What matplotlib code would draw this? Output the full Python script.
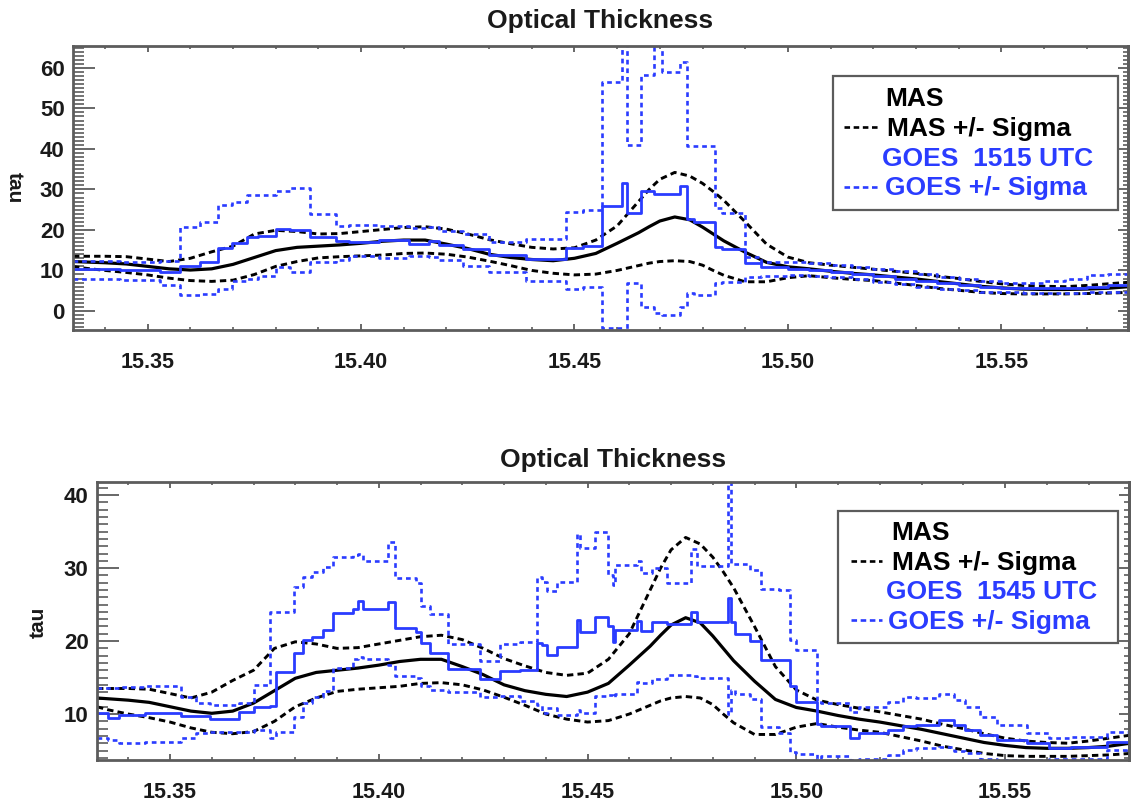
import matplotlib
matplotlib.use("Agg")
import matplotlib.pyplot as plt
from matplotlib.patches import Rectangle
from matplotlib.lines import Line2D
from matplotlib.ticker import MultipleLocator, FormatStrFormatter

plt.rcParams['font.family'] = ['Liberation Sans', 'DejaVu Sans']
plt.rcParams['font.weight'] = 'bold'
plt.rcParams['lines.scale_dashes'] = False

# MAS optical thickness (same in both panels)
mas_t = [15.3325, 15.335, 15.340, 15.345, 15.350, 15.355, 15.360, 15.365, 15.370, 15.375,
         15.380, 15.385, 15.390, 15.395, 15.400, 15.405, 15.410, 15.415, 15.420, 15.425,
         15.430, 15.435, 15.440, 15.445, 15.450, 15.455, 15.460, 15.465, 15.4675, 15.470,
         15.4735, 15.477, 15.480, 15.4825, 15.485, 15.490, 15.495, 15.500, 15.505, 15.510,
         15.515, 15.520, 15.525, 15.530, 15.535, 15.540, 15.545, 15.550, 15.555, 15.560,
         15.565, 15.570, 15.575, 15.580]
mas_tau = [12.2, 12.1, 11.9, 11.6, 11.0, 10.4, 10.1, 10.4, 11.5, 13.2,
           14.9, 15.7, 16.0, 16.3, 16.7, 17.2, 17.5, 17.5, 16.5, 15.4,
           14.0, 13.2, 12.7, 12.4, 13.0, 14.2, 16.7, 19.3, 20.8, 22.2,
           23.2, 22.5, 20.7, 19.0, 17.3, 14.5, 12.0, 10.9, 10.4, 9.8,
           9.3, 8.9, 8.4, 7.9, 7.3, 6.7, 6.1, 5.7, 5.4, 5.3,
           5.3, 5.4, 5.6, 6.0]
mas_hi = [13.5, 13.5, 13.5, 13.4, 12.8, 12.2, 13.0, 14.6, 16.0, 19.0,
          19.9, 19.6, 19.0, 19.1, 19.6, 20.1, 20.6, 20.8, 20.2, 19.0,
          17.6, 16.6, 15.7, 15.3, 15.6, 17.5, 21.0, 27.0, 30.0, 32.5,
          34.2, 33.3, 31.5, 29.5, 27.3, 22.0, 16.5, 13.3, 11.9, 11.3,
          10.8, 10.3, 9.8, 9.3, 8.6, 8.0, 7.3, 6.7, 6.3, 6.1,
          6.0, 6.3, 6.7, 7.1]
mas_lo = [11.0, 10.6, 10.0, 9.5, 8.9, 8.1, 7.5, 7.3, 7.6, 9.0,
          11.0, 12.2, 13.1, 13.4, 13.6, 13.8, 14.2, 14.3, 14.0, 13.3,
          12.3, 11.2, 10.0, 9.3, 8.9, 9.1, 10.0, 11.2, 11.8, 12.2,
          12.4, 12.2, 11.3, 10.0, 8.8, 7.2, 7.2, 8.2, 8.7, 8.2,
          7.8, 7.5, 6.9, 6.3, 5.6, 5.1, 4.6, 4.3, 4.2, 4.2,
          4.2, 4.3, 4.4, 4.6]

# GOES 1515 UTC (pixel edges along track, mean and +/- sigma)
g1515_edges = [15.3325, 15.3435, 15.3528, 15.3575, 15.3622, 15.3664, 15.3698, 15.3732, 15.3758,
               15.3800, 15.3834, 15.3881, 15.3941, 15.3972, 15.4043, 15.4113, 15.4160, 15.4183,
               15.4238, 15.4300, 15.4386, 15.4480, 15.4519, 15.4565, 15.4612, 15.4624, 15.4655,
               15.4686, 15.4705, 15.4748, 15.4764, 15.4780, 15.4830, 15.4846, 15.4900, 15.4936,
               15.500, 15.505, 15.510, 15.515, 15.520, 15.525, 15.530, 15.535, 15.540, 15.545,
               15.550, 15.555, 15.560, 15.565, 15.570, 15.575, 15.580]
g1515_tau = [10.4, 10.0, 9.6, 11.2, 12.0, 15.5, 16.8, 18.2, 18.6, 20.2, 20.0, 18.2,
             17.3, 17.0, 17.4, 16.5, 17.3, 16.2, 15.4, 13.8, 12.8, 15.5, 16.0, 26.0,
             31.5, 24.2, 29.6, 28.9, 28.8, 30.8, 22.8, 22.0, 15.8, 15.3, 11.8, 10.9,
             10.4, 10.0, 9.6, 9.1, 8.6, 8.0, 7.4, 6.9, 6.4, 6.0, 5.7, 5.6, 5.6, 5.7, 5.8, 6.3]
g1515_hi = [12.3, 12.0, 12.3, 20.8, 22.0, 26.2, 27.0, 28.6, 28.5, 29.5, 30.4, 24.0,
            21.0, 21.2, 21.0, 20.5, 20.8, 19.8, 19.0, 17.0, 17.8, 24.5, 25.0, 56.5,
            80.0, 41.0, 58.3, 80.0, 59.0, 61.5, 40.8, 40.6, 25.5, 24.3, 13.4, 12.0,
            12.1, 11.8, 11.4, 10.9, 10.4, 9.8, 9.1, 8.4, 7.8, 7.3, 7.0, 6.9, 7.3, 7.9, 8.8, 9.0]
g1515_lo = [7.8, 7.6, 6.4, 4.0, 4.3, 5.4, 7.5, 8.0, 8.6, 10.9, 9.6, 12.0,
            12.6, 13.6, 13.0, 13.6, 13.2, 12.6, 11.0, 9.6, 7.3, 5.3, 6.0, -4.2,
            -20.0, 6.9, 1.1, -0.6, -1.0, 1.0, 4.4, 4.0, 7.0, 7.2, 8.5, 8.7,
            8.9, 8.7, 8.3, 7.8, 7.2, 6.6, 6.0, 5.5, 5.1, 4.8, 4.6, 4.5, 4.5, 4.5, 4.6, 4.8]

# GOES 1545 UTC
g1545_edges = [15.3325, 15.3352, 15.3378, 15.3439, 15.3527, 15.3562, 15.3596, 15.3666, 15.3701,
               15.3740, 15.3754, 15.3797, 15.3819, 15.3841, 15.3866, 15.3890, 15.3938, 15.3950,
               15.3962, 15.4022, 15.4038, 15.4090, 15.4102, 15.4122, 15.4166, 15.4243, 15.4291,
               15.4339, 15.4379, 15.4391, 15.4403, 15.4427, 15.4475, 15.4483, 15.4517, 15.4548,
               15.4561, 15.4565, 15.4618, 15.4627, 15.4655, 15.4691, 15.4749, 15.4762, 15.4836,
               15.4844, 15.4854, 15.4889, 15.4915, 15.4958, 15.4985, 15.5000, 15.5050, 15.5059,
               15.5129, 15.5151, 15.5220, 15.5255, 15.5286, 15.5343, 15.5377, 15.5404, 15.5439,
               15.5482, 15.5552, 15.5605, 15.5657, 15.5744, 15.5800]
g1545_tau = [10.1, 9.4, 9.9, 10.2, 9.7, 9.7, 9.3, 10.3, 11.0, 11.1,
             15.8, 18.3, 20.1, 20.6, 21.5, 23.8, 24.4, 25.5, 24.4, 25.4,
             21.8, 21.3, 19.7, 18.4, 16.2, 14.8, 15.9, 16.0, 19.7, 19.4,
             18.1, 19.2, 22.9, 21.2, 23.3, 22.0, 19.9, 21.5, 22.7, 21.4,
             22.6, 22.3, 24.0, 22.6, 25.9, 22.6, 21.0, 20.0, 17.4, 17.4,
             13.9, 11.7, 8.7, 8.3, 6.7, 7.4, 7.8, 8.3, 8.5, 9.2,
             8.5, 7.8, 7.1, 6.4, 6.0, 5.3, 5.5, 6.2]
g1545_hi = [13.5, 13.5, 13.7, 13.9, 12.4, 11.5, 11.2, 11.5, 14.0, 24.0,
            24.0, 27.4, 28.8, 29.5, 30.2, 31.5, 31.8, 32.0, 31.0, 33.6,
            28.6, 27.9, 24.8, 23.7, 19.6, 17.3, 19.6, 19.9, 28.8, 28.1,
            26.8, 28.1, 34.7, 32.8, 35.0, 29.0, 27.7, 30.4, 31.0, 29.3,
            30.0, 28.0, 32.6, 30.3, 60.0, 30.6, 30.6, 29.7, 27.1, 27.0,
            20.2, 18.8, 11.7, 11.5, 10.3, 11.0, 11.7, 12.4, 12.2, 12.8,
            11.9, 11.0, 9.6, 8.5, 7.4, 6.7, 6.9, 7.6]
g1545_lo = [6.7, 6.4, 6.0, 6.2, 6.7, 7.4, 7.5, 7.6, 7.8, 6.7,
            7.5, 9.6, 11.5, 12.4, 13.1, 16.3, 17.5, 17.8, 17.5, 16.7,
            15.2, 15.0, 13.8, 13.3, 13.0, 12.3, 12.5, 11.8, 11.2, 10.1,
            10.8, 9.8, 10.5, 10.2, 12.5, 12.6, 12.4, 12.7, 14.4, 14.2,
            14.8, 15.4, 15.2, 14.9, 10.0, 13.3, 12.7, 12.0, 8.2, 7.4,
            4.8, 4.5, 3.9, 4.2, 3.7, 3.8, 4.4, 5.1, 5.3, 5.5,
            4.9, 4.6, 3.9, 3.7, 3.7, 3.9, 3.9, 5.1]

BLUE = '#2a3cff'
GRAY = '#5c5c5c'
TXT = '#1a1a1a'
BLACK_DASH = (0, (4.6, 3.0))
BLUE_DASH = (0, (3.4, 2.8))

W, H = 1132, 801
fig = plt.figure(figsize=(W / 100, H / 100), dpi=100)


def px_rect(l, t, r, b):
    return [l / W, 1 - b / H, (r - l) / W, (b - t) / H]


def steps(ax, edges, vals, **kw):
    ax.step(edges, list(vals) + [vals[-1]], where='post', **kw)


def panel(ax, edges, g_tau, g_hi, g_lo, ylim, title_pad):
    ax.plot(mas_t, mas_hi, color='black', lw=2.1, linestyle=BLACK_DASH)
    ax.plot(mas_t, mas_lo, color='black', lw=2.1, linestyle=BLACK_DASH)
    ax.plot(mas_t, mas_tau, color='black', lw=2.3)
    steps(ax, edges, g_hi, color=BLUE, lw=1.9, linestyle=BLUE_DASH)
    steps(ax, edges, g_lo, color=BLUE, lw=1.9, linestyle=BLUE_DASH)
    steps(ax, edges, g_tau, color=BLUE, lw=2.0)

    ax.set_xlim(15.3325, 15.5797)
    ax.set_ylim(*ylim)
    ax.set_title('Optical Thickness', fontsize=19, fontweight='bold', pad=title_pad, color=TXT)

    for s in ax.spines.values():
        s.set_color(GRAY)
        s.set_linewidth(2)

    ax.xaxis.set_major_locator(MultipleLocator(0.05))
    ax.xaxis.set_minor_locator(MultipleLocator(0.01))
    ax.xaxis.set_major_formatter(FormatStrFormatter('%.2f'))
    ax.yaxis.set_major_locator(MultipleLocator(10))
    ax.yaxis.set_minor_locator(MultipleLocator(1))
    ax.yaxis.set_major_formatter(FormatStrFormatter('%d'))

    ax.tick_params(axis='x', which='major', direction='in', top=True, bottom=True,
                   length=4.5, width=1.3, color=GRAY, pad=16, labelsize=15.5, labelcolor=TXT)
    ax.tick_params(axis='x', which='minor', direction='in', top=True, bottom=True,
                   length=2.5, width=1.2, color=GRAY)
    ax.tick_params(axis='y', which='major', direction='in', left=True, right=False,
                   length=15.5, width=1.3, color=GRAY, pad=6, labelsize=16, labelcolor=TXT)
    ax.tick_params(axis='y', which='minor', direction='in', left=True, right=False,
                   length=8, width=1.2, color=GRAY)

    sec = ax.secondary_yaxis('right')
    sec.yaxis.set_major_locator(MultipleLocator(10))
    sec.yaxis.set_minor_locator(MultipleLocator(1))
    sec.tick_params(which='major', direction='in', length=7, width=1.3, color=GRAY, labelright=False)
    sec.tick_params(which='minor', direction='in', length=3.5, width=1.2, color=GRAY)
    sec.spines['right'].set_color(GRAY)
    sec.spines['right'].set_linewidth(2)


def legend(box, rows):
    l, t, r, b = box
    fig.add_artist(Rectangle((l / W, 1 - b / H), (r - l) / W, (b - t) / H,
                             transform=fig.transFigure, fill=False, ec=GRAY, lw=1.6))
    for label, color, x_text, y_base, sample in rows:
        fig.text(x_text / W, 1 - y_base / H, label, color=color, fontsize=19,
                 fontweight='bold', ha='left', va='baseline')
        if sample is not None:
            x0, x1, ls = sample
            fig.add_artist(Line2D([x0 / W, x1 / W], [1 - (y_base - 9) / H] * 2,
                                  transform=fig.transFigure, color=color, lw=1.9, linestyle=ls))


ax1 = fig.add_axes(px_rect(73, 46, 1128, 330))
panel(ax1, g1515_edges, g1515_tau, g1515_hi, g1515_lo, (-4.7, 65.4), 13)

ax2 = fig.add_axes(px_rect(97, 482, 1129, 760))
panel(ax2, g1545_edges, g1545_tau, g1545_hi, g1545_lo, (3.7, 41.8), 11)

fig.text(14.5 / W, 1 - 188 / H, 'tau', rotation=270, ha='center', va='center',
         fontsize=15, fontweight='bold', color=TXT)
fig.text(38 / W, 1 - 622 / H, 'tau', rotation=90, ha='center', va='center',
         fontsize=15, fontweight='bold', color=TXT)

legend((833, 76, 1118, 210), [
    ('MAS', 'black', 885, 106, None),
    ('MAS +/- Sigma', 'black', 887, 136, (844, 878, (0, (4.0, 2.6)))),
    ('GOES  1515 UTC', BLUE, 882, 166, None),
    ('GOES +/- Sigma', BLUE, 885, 195.5, (844, 878, (0, (4.0, 2.6)))),
])
legend((838, 511, 1118, 643), [
    ('MAS', 'black', 891, 540, None),
    ('MAS +/- Sigma', 'black', 892, 570, (851, 882, (0, (4.0, 2.6)))),
    ('GOES  1545 UTC', BLUE, 886.5, 599, None),
    ('GOES +/- Sigma', BLUE, 888, 628.5, (851, 882, (0, (4.0, 2.6)))),
])

fig.savefig('out.png', dpi=100)
